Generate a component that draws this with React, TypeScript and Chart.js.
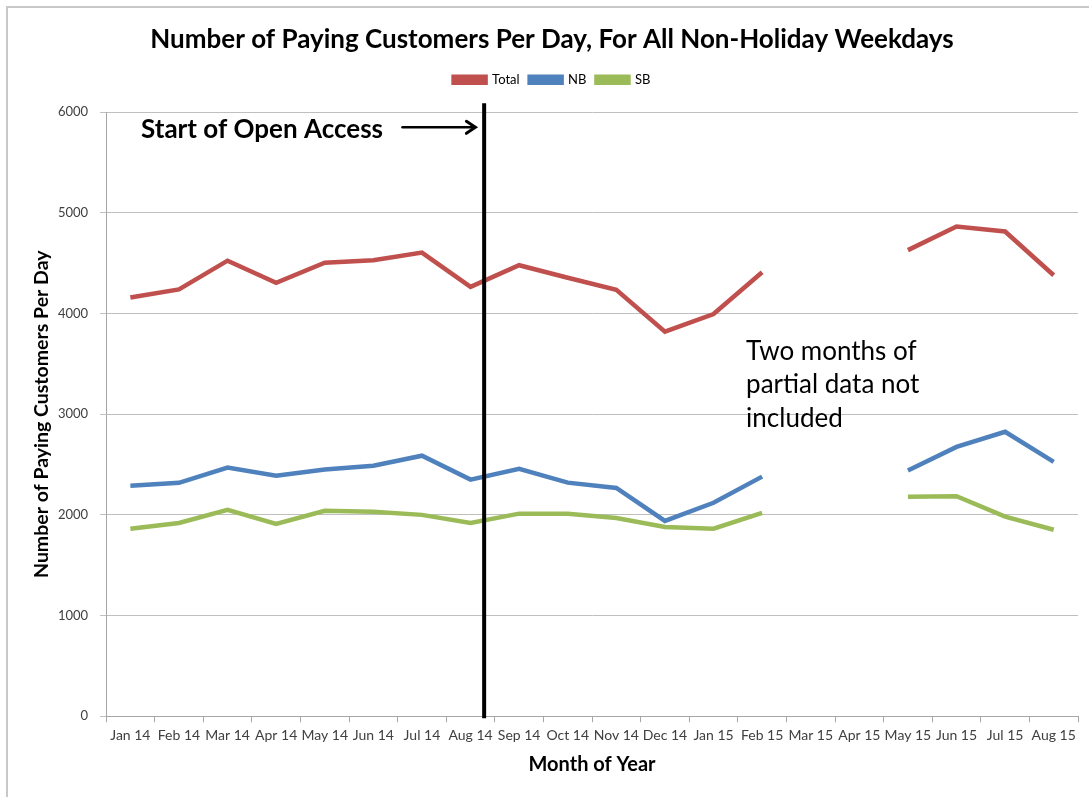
import React, { useEffect, useRef } from "react";
import { Chart, registerables } from "chart.js";

Chart.register(...registerables);

const months = [
  "Jan 14", "Feb 14", "Mar 14", "Apr 14", "May 14", "Jun 14", "Jul 14", "Aug 14",
  "Sep 14", "Oct 14", "Nov 14", "Dec 14", "Jan 15", "Feb 15", "Mar 15", "Apr 15",
  "May 15", "Jun 15", "Jul 15", "Aug 15",
];
const totalValues = [4160, 4240, 4525, 4305, 4505, 4530, 4605, 4265, 4480, 4355, 4235, 3820, 3995, 4410, null, null, 4630, 4865, 4815, 4380];
const nbValues = [2290, 2318, 2470, 2388, 2450, 2488, 2588, 2350, 2458, 2320, 2268, 1940, 2120, 2380, null, null, 2440, 2675, 2825, 2527];
const sbValues = [1862, 1920, 2050, 1910, 2040, 2030, 2000, 1920, 2012, 2010, 1968, 1880, 1862, 2020, null, null, 2180, 2185, 1982, 1852];
const yTicks = [0, 1000, 2000, 3000, 4000, 5000, 6000];

const titleText = "Number of Paying Customers Per Day, For All Non-Holiday Weekdays";
const openAccessLabel = "Start of Open Access";
const openAccessIndex = 7.28;
const noteLines = ["Two months of", "partial data not", "included"];

const FONT = "Lato, 'Open Sans', sans-serif";

const legendMargin = {
  id: "legendMargin",
  beforeInit(chart: any) {
    const legend = chart.legend;
    if (!legend) return;
    const origFit = legend.fit;
    legend.fit = function () {
      origFit.call(this);
      this.height += 16;
    };
  },
};

const annotations = {
  id: "annotations",
  afterDatasetsDraw(chart: any) {
    const { ctx, chartArea, scales } = chart;
    const x = scales.x;
    const y = scales.y;
    ctx.save();
    // vertical line
    const lx = x.getPixelForValue(openAccessIndex);
    ctx.strokeStyle = "#000";
    ctx.lineWidth = 4;
    ctx.beginPath();
    ctx.moveTo(lx, chartArea.top - 9);
    ctx.lineTo(lx, chartArea.bottom + 2);
    ctx.stroke();

    // label
    ctx.fillStyle = "#000";
    ctx.font = `bold 26px ${FONT}`;
    ctx.textBaseline = "middle";
    ctx.textAlign = "left";
    const ty = y.getPixelForValue(5830);
    ctx.fillText(openAccessLabel, x.getPixelForValue(0.22), ty);

    // arrow
    const ax0 = x.getPixelForValue(5.6);
    const ax1 = x.getPixelForValue(7.1);
    const ay = y.getPixelForValue(5850);
    ctx.lineWidth = 2.5;
    ctx.lineCap = "round";
    ctx.lineJoin = "miter";
    ctx.beginPath();
    ctx.moveTo(ax0, ay);
    ctx.lineTo(ax1 - 2, ay);
    ctx.stroke();
    ctx.lineWidth = 3;
    ctx.beginPath();
    ctx.moveTo(ax1 - 9, ay - 6);
    ctx.lineTo(ax1, ay);
    ctx.lineTo(ax1 - 9, ay + 6);
    ctx.stroke();

    // note
    ctx.font = `26px ${FONT}`;
    const nx = x.getPixelForValue(12.67);
    noteLines.forEach((line, i) => {
      ctx.fillText(line, nx, y.getPixelForValue(3620 - i * 330));
    });
    ctx.restore();
  },
};

export default function App() {
  const canvasRef = useRef<HTMLCanvasElement | null>(null);

  useEffect(() => {
    document.body.style.margin = "0";
    const canvas = canvasRef.current;
    if (!canvas) return;
    const chart = new Chart(canvas, {
      type: "line",
      data: {
        labels: months,
        datasets: [
          { label: "Total", data: totalValues, borderColor: "#C0504D", backgroundColor: "#C0504D", borderWidth: 4.5, pointRadius: 0, spanGaps: false, tension: 0 },
          { label: "NB", data: nbValues, borderColor: "#4F81BD", backgroundColor: "#4F81BD", borderWidth: 4.5, pointRadius: 0, spanGaps: false, tension: 0 },
          { label: "SB", data: sbValues, borderColor: "#9BBB59", backgroundColor: "#9BBB59", borderWidth: 4.5, pointRadius: 0, spanGaps: false, tension: 0 },
        ],
      },
      options: {
        animation: false,
        responsive: false,
        maintainAspectRatio: false,
        layout: { padding: { left: 26, right: 11, top: 0, bottom: 20 } },
        plugins: {
          title: {
            display: true,
            text: titleText,
            color: "#000",
            font: { family: FONT, size: 26, weight: "bold" },
            padding: { top: 24, bottom: 8 },
          },
          legend: {
            display: true,
            position: "top",
            labels: {
              boxWidth: 32,
              boxHeight: 6,
              color: "#000",
              padding: 10,
              font: { family: FONT, size: 13 },
            },
          },
          tooltip: { enabled: false },
        },
        scales: {
          x: {
            type: "category",
            offset: true,
            grid: { offset: true, drawOnChartArea: false, drawTicks: true, tickLength: 6, color: "#A6A6A6" },
            border: { color: "#A6A6A6", width: 1 },
            ticks: { color: "#404040", font: { family: FONT, size: 14 }, maxRotation: 0, autoSkip: false, padding: 5 },
            title: { display: true, text: "Month of Year", color: "#000", font: { family: FONT, size: 20, weight: "bold" }, padding: { top: 4, bottom: 0 } },
          },
          y: {
            min: 0,
            max: 6000,
            afterBuildTicks: (scale: any) => {
              scale.ticks = yTicks.map((v) => ({ value: v }));
            },
            grid: { color: "#BFBFBF", drawTicks: true, tickLength: 6 },
            border: { color: "#A6A6A6", width: 1 },
            ticks: { color: "#404040", font: { family: FONT, size: 13 }, padding: 12, callback: (v: any) => String(v) },
            title: { display: true, text: "Number of Paying Customers Per Day", color: "#000", font: { family: FONT, size: 19.5, weight: "bold" }, padding: { top: 4, bottom: -7.5 } },
          },
        },
      },
      plugins: [legendMargin, annotations],
    });
    return () => chart.destroy();
  }, []);

  return (
    <div style={{ position: "relative", width: 1089, height: 797, background: "#fff", overflow: "hidden" }}>
      <div style={{ position: "absolute", left: 6, top: 6, width: 1100, height: 820, borderTop: "2px solid #C8C8C8", borderLeft: "2px solid #C8C8C8", boxSizing: "border-box" }} />
      <canvas ref={canvasRef} width={1089} height={797} style={{ position: "absolute", left: 0, top: 0, width: 1089, height: 797 }} />
    </div>
  );
}
